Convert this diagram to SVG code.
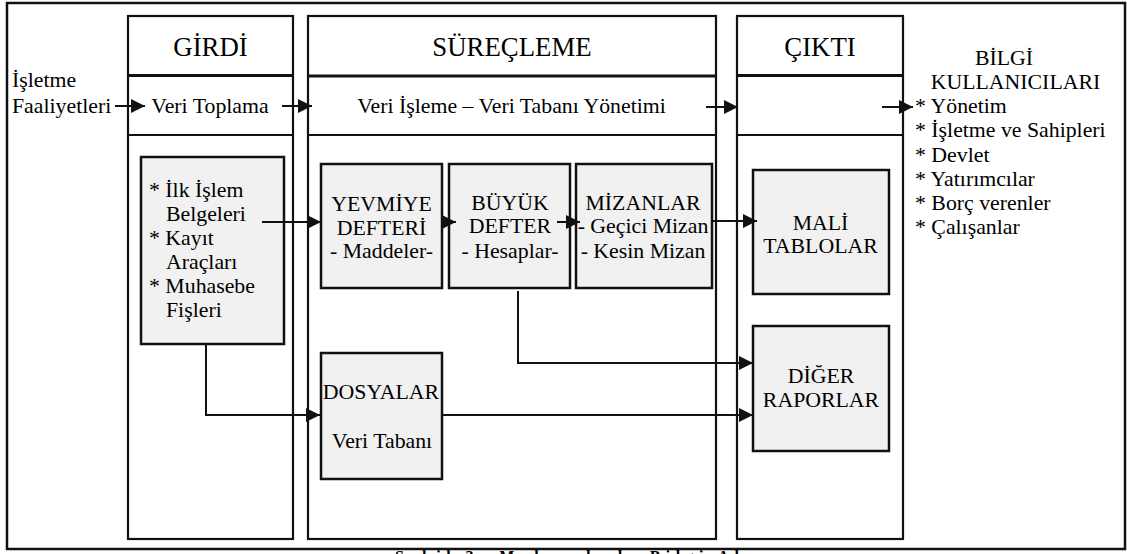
<svg xmlns="http://www.w3.org/2000/svg" width="1127" height="554" viewBox="0 0 1127 554" font-family="'Liberation Serif', 'Times New Roman', serif">
  <style>
    text { font-family: "Liberation Serif", "Times New Roman", serif; fill: #000; }
    .hd { font-size: 26.8px; text-anchor: middle; }
    .tx { font-size: 21.8px; }
    .c { text-anchor: middle; }
    .col { fill: none; stroke: #111; stroke-width: 2.2; }
    .sep1 { stroke: #111; stroke-width: 3; }
    .sep2 { stroke: #111; stroke-width: 2; }
    .box { fill: #f1f1f1; stroke: #111; stroke-width: 2.5; }
    .cn { fill: none; stroke: #111; stroke-width: 2; marker-end: url(#ah); }
    .cap { font-size: 16px; font-weight: bold; }
  </style>
  <defs>
    <marker id="ah" viewBox="0 0 14 14" refX="14" refY="7" markerWidth="14" markerHeight="14" markerUnits="userSpaceOnUse" orient="auto">
      <path d="M0,0 L14,7 L0,14 z" fill="#111"/>
    </marker>
  </defs>

  <rect width="1127" height="554" fill="#fff"/>
  <!-- outer frame -->
  <rect x="7" y="3" width="1118" height="546" fill="none" stroke="#111" stroke-width="2.5"/>

  <!-- input column -->
  <g id="col-girdi">
    <rect class="col" x="128" y="16" width="165" height="523"/>
    <line class="sep1" x1="128" y1="75.5" x2="293" y2="75.5"/>
    <line class="sep2" x1="128" y1="135" x2="293" y2="135"/>
    <text class="hd" x="210.5" y="56">GİRDİ</text>
    <text class="tx c" x="210" y="113">Veri Toplama</text>
  </g>

  <!-- processing column -->
  <g id="col-surecleme">
    <rect class="col" x="308" y="16" width="408" height="523"/>
    <line class="sep1" x1="308" y1="76" x2="716" y2="76"/>
    <line class="sep2" x1="308" y1="135" x2="716" y2="135"/>
    <text class="hd" x="512" y="56">SÜREÇLEME</text>
    <text class="tx c" x="511.5" y="113">Veri İşleme – Veri Tabanı Yönetimi</text>
  </g>

  <!-- output column -->
  <g id="col-cikti">
    <rect class="col" x="737" y="16" width="166" height="523"/>
    <line class="sep1" x1="737" y1="75.5" x2="903" y2="75.5"/>
    <line class="sep2" x1="737" y1="135" x2="903" y2="135"/>
    <text class="hd" x="820" y="56">ÇIKTI</text>
  </g>

  <!-- business activities -->
  <g id="faaliyetler">
    <text class="tx" x="12" y="87">İşletme</text>
    <text class="tx" x="12" y="113">Faaliyetleri</text>
  </g>

  <!-- information users -->
  <g id="kullanicilar">
    <text class="tx c" x="1004" y="65">BİLGİ</text>
    <text class="tx c" x="1015.5" y="89">KULLANICILARI</text>
    <text class="tx" x="915" y="113">* Yönetim</text>
    <text class="tx" x="915" y="137">* İşletme ve Sahipleri</text>
    <text class="tx" x="915" y="161.5">* Devlet</text>
    <text class="tx" x="915" y="186">* Yatırımcılar</text>
    <text class="tx" x="915" y="210">* Borç verenler</text>
    <text class="tx" x="915" y="234">* Çalışanlar</text>
  </g>

  <!-- source documents -->
  <g id="belgeler">
    <rect class="box" x="141" y="157" width="143" height="187"/>
    <text class="tx" x="149" y="197">* İlk İşlem</text>
    <text class="tx" x="166" y="221">Belgeleri</text>
    <text class="tx" x="149" y="245">* Kayıt</text>
    <text class="tx" x="166" y="269">Araçları</text>
    <text class="tx" x="149" y="293">* Muhasebe</text>
    <text class="tx" x="166" y="317">Fişleri</text>
  </g>

  <g id="yevmiye">
    <rect class="box" x="321" y="164" width="121" height="124"/>
    <text class="tx c" x="381.5" y="211">YEVMİYE</text>
    <text class="tx c" x="381.5" y="235">DEFTERİ</text>
    <text class="tx c" x="381.5" y="258">- Maddeler-</text>
  </g>

  <g id="buyuk-defter">
    <rect class="box" x="449" y="164" width="121" height="124"/>
    <text class="tx c" x="510" y="209.5">BÜYÜK</text>
    <text class="tx c" x="510" y="233">DEFTER</text>
    <text class="tx c" x="510" y="258">- Hesaplar-</text>
  </g>

  <g id="mizanlar">
    <rect class="box" x="576" y="164" width="136" height="124"/>
    <text class="tx c" x="643" y="209.5">MİZANLAR</text>
    <text class="tx c" x="643" y="233">- Geçici Mizan</text>
    <text class="tx c" x="643" y="258">- Kesin Mizan</text>
  </g>

  <g id="dosyalar">
    <rect class="box" x="321" y="353" width="121" height="126"/>
    <text class="tx c" x="381" y="399">DOSYALAR</text>
    <text class="tx c" x="382" y="448">Veri Tabanı</text>
  </g>

  <g id="mali-tablolar">
    <rect class="box" x="753" y="170" width="136" height="124"/>
    <text class="tx c" x="820.5" y="230">MALİ</text>
    <text class="tx c" x="820.5" y="253">TABLOLAR</text>
  </g>

  <g id="diger-raporlar">
    <rect class="box" x="753" y="326" width="136" height="125"/>
    <text class="tx c" x="821" y="383">DİĞER</text>
    <text class="tx c" x="821" y="407">RAPORLAR</text>
  </g>

  <!-- connectors -->
  <g id="connectors">
    <line class="cn" x1="115" y1="106" x2="145" y2="106"/>
    <line class="cn" x1="282" y1="106" x2="312" y2="106"/>
    <line class="cn" x1="706" y1="107" x2="738" y2="107"/>
    <line class="cn" x1="882" y1="107" x2="913" y2="107"/>
    <line class="cn" x1="262" y1="222" x2="321" y2="222"/>
    <line class="cn" x1="443" y1="222" x2="456" y2="222"/>
    <line class="cn" x1="557" y1="222" x2="580" y2="222"/>
    <line class="cn" x1="713" y1="221" x2="757" y2="221"/>
    <path class="cn" d="M518,291 V363 H753"/>
    <path class="cn" d="M206,344 V415 H320"/>
    <line class="cn" x1="443" y1="415" x2="753" y2="415"/>
  </g>

  <!-- caption, cut by the lower edge -->
  <text class="cap c" x="585" y="562" textLength="380" lengthAdjust="spacing">Şekil 3: Muhasebede Bilgi Akışı</text>
</svg>
